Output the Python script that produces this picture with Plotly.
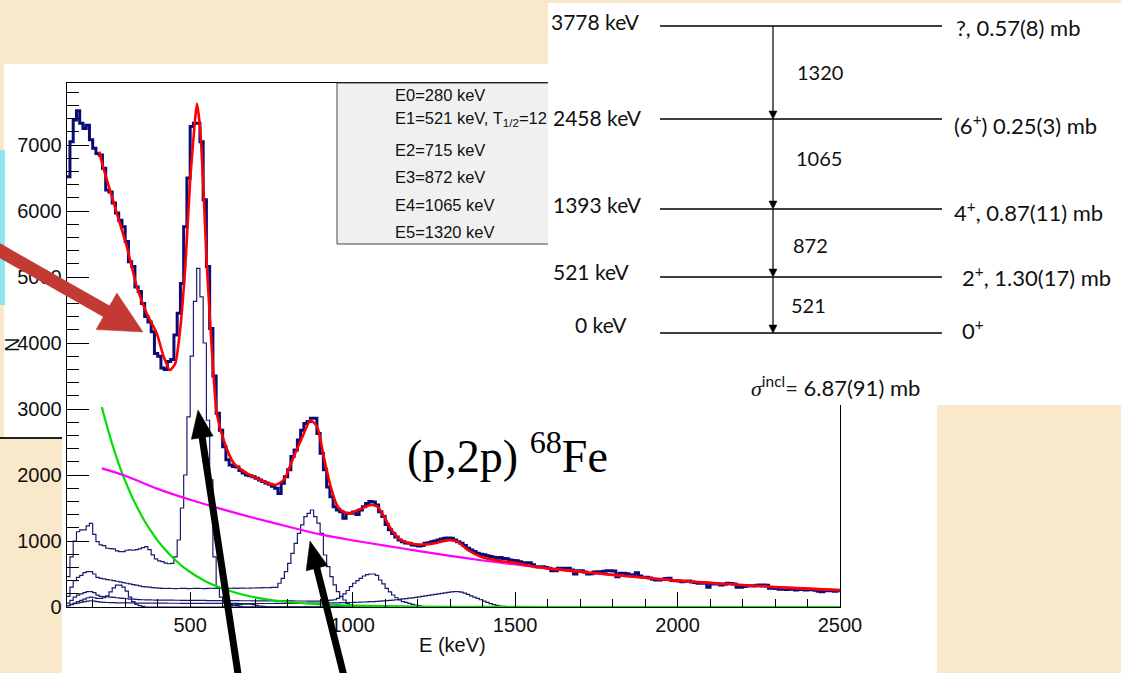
import numpy as np
import plotly.graph_objects as go

# ---------------- data ----------------
BIN_W = 10
hist_start = 120
hist_counts = [
    6520, 7050, 7380, 7520, 7330, 7250, 7300, 7080, 6950, 6870,
    6850, 6650, 6320, 6290, 6120, 5970, 5860, 5760, 5540, 5230,
    5160, 4850, 4780, 4600, 4400, 4320, 4170, 3840, 3800, 3620,
    3600, 3720, 3750, 4120, 4450, 4900, 5760, 6500, 7280, 7330,
    7330, 7050, 6170, 5160, 4220, 3500, 2935, 2680, 2430, 2230,
    2150, 2130, 2120, 2070, 2030, 2000, 1990, 1975, 1950, 1925,
    1900, 1880, 1860, 1830, 1800, 1720, 1875, 1975, 2080, 2280,
    2380, 2530, 2680, 2780, 2810, 2860, 2860, 2630, 2330, 2080,
    1820, 1670, 1520, 1470, 1445, 1345, 1420, 1420, 1440, 1400,
    1470, 1520, 1570, 1600, 1590, 1545, 1445, 1370, 1250, 1170,
    1115, 1060, 1015, 990, 970, 965, 940, 935, 925, 930,
    965, 975, 990, 1000, 1015, 1030, 1040, 1045, 1040, 1015,
    990, 965, 930, 890, 865, 840, 815, 800, 790, 775,
    765, 755, 740, 750, 735, 730, 712, 705, 700, 685,
    672, 670, 672, 640, 611, 605, 611, 600, 586, 550,
    550, 586, 586, 586, 586, 560, 500, 550, 550, 530,
    500, 505, 530, 535, 535, 540, 550, 550, 545, 460,
    510, 510, 505, 490, 480, 520, 470, 450, 450, 440,
    420, 410, 409, 420, 430, 435, 400, 399, 395, 384,
    390, 395, 380, 370, 360, 359, 365, 298, 350, 355,
    350, 333, 345, 359, 355, 350, 298, 300, 310, 318,
    322, 318, 330, 333, 333, 330, 283, 283, 280, 268,
    275, 265, 270, 268, 258, 265, 268, 258, 262, 260,
    255, 240, 232, 245, 250, 247, 240, 247,
]

comp_280_start = 120
comp_280 = [20, 40, 60, 80, 100, 120, 140, 150, 140, 130,
            130, 140, 170, 230, 290, 330, 330, 300, 240, 150,
            80, 40, 20, 10]

comp_521_start = 120
comp_521 = [460, 760, 1000, 1140, 1170, 1170, 1230, 1267, 1100, 990,
            940, 930, 890, 885, 880, 850, 840, 838, 860, 865,
            860, 870, 880, 900, 914, 870, 790, 730, 700, 687,
            665, 655, 660, 760, 1015, 1500, 2000, 2880, 3800, 4630,
            5130, 4700, 4000, 2830, 1925, 760, 300, 150, 80, 50,
            40, 30, 20, 10, 0]

comp_715_start = 600
comp_715 = [10, 15, 20, 28, 35, 40, 45, 45, 42, 35, 25, 15, 8, 3, 0]

comp_872_start = 120
comp_872 = [160, 300, 400, 450, 480, 520, 535, 535, 500, 450,
            434, 425, 415, 409, 400, 390, 380, 370, 360, 350,
            340, 330, 320, 310, 305, 300, 295, 290, 285, 283,
            280, 282, 280, 278, 280, 283, 281, 279, 280, 282,
            283, 280, 279, 282, 284, 281, 280, 283, 285, 282,
            284, 286, 283, 285, 287, 284, 286, 288, 290, 291,
            293, 292, 295, 296, 298, 360, 435, 536, 662, 814,
            965, 1116, 1243, 1369, 1420, 1470, 1370, 1270, 1116, 788,
            612, 460, 334, 233, 157, 106, 55, 30, 10, 0]

comp_1065_start = 120
comp_1065 = [60, 100, 150, 180, 200, 217, 232, 232, 217, 180,
             160, 157, 155, 150, 145, 140, 135, 130, 125, 120,
             118, 115, 112, 110, 108, 107, 106, 105, 105, 104,
             104, 103, 103, 102, 102, 101, 101, 100, 100, 100,
             99, 99, 99, 98, 98, 98, 97, 97, 97, 96,
             96, 96, 96, 95, 95, 95, 95, 94, 94, 94,
             94, 93, 93, 93, 93, 92, 92, 92, 92, 92,
             91, 91, 91, 91, 90, 90, 90, 90, 95, 100,
             100, 105, 110, 130, 160, 200, 250, 308, 360, 400,
             434, 470, 490, 500, 500, 480, 409, 350, 283, 230,
             182, 140, 106, 80, 71, 55, 40, 30, 20, 10, 0]

comp_1320_start = 120
comp_1320 = [20, 35, 50, 60, 70, 80, 90, 95, 90, 80,
             75, 70, 68, 66, 65, 64, 63, 62, 62, 61,
             61, 60, 60, 60, 59, 59, 59, 58, 58, 58,
             58, 57, 57, 57, 57, 56, 56, 56, 56, 56,
             55, 55, 55, 55, 55, 55, 54, 54, 54, 54,
             54, 54, 54, 53, 53, 53, 53, 53, 53, 53,
             53, 53, 53, 53, 54, 54, 54, 55, 55, 55,
             56, 56, 57, 57, 58, 58, 59, 59, 60, 60,
             61, 62, 63, 64, 65, 66, 67, 68, 70, 72,
             74, 76, 78, 80, 82, 85, 88, 92, 96, 100,
             105, 110, 116, 122, 128, 133, 138, 145, 152, 160,
             168, 176, 184, 192, 200, 207, 215, 222, 228, 233,
             233, 225, 210, 190, 170, 150, 130, 110, 90, 70,
             50, 35, 25, 15, 8, 3, 0]
COMP_END = 1550

fit_E = [220, 232, 253, 274, 305, 336, 366, 397, 418, 438, 454, 469, 485, 500, 515,
         521, 531, 541, 551, 562, 572, 582, 603, 634, 675, 716, 762, 788, 819, 850,
         870, 891, 911, 932, 953, 973, 994, 1014, 1056, 1076, 1097, 1117, 1148, 1189,
         1241, 1292, 1323, 1354, 1395, 1447, 1498, 1549, 1600, 1700, 1800, 1900, 2000,
         2100, 2200, 2300, 2400, 2500]
fit_N = [6900, 6670, 6320, 5970, 5460, 4850, 4450, 4150, 3800, 3590, 3690, 4200, 5160, 6470, 7380,
         7630, 7230, 6320, 5210, 4270, 3500, 2930, 2530, 2180, 2025, 1925, 1850, 1925, 2280, 2630,
         2830, 2730, 2280, 1830, 1530, 1440, 1420, 1465, 1545, 1520, 1370, 1190, 1015, 955,
         955, 1010, 990, 865, 762, 702, 671, 621, 585, 535, 487, 443, 400,
         365, 333, 302, 278, 255]

green_E = [228, 240, 260, 280, 300, 320, 340, 360, 380, 400, 420, 440, 460, 480, 500,
           520, 540, 560, 580, 600, 620, 640, 660, 680, 700, 740, 780, 820, 860, 900,
           950, 1000, 1100, 1200, 1400, 1600, 2000, 2500]
green_N = [3030, 2810, 2470, 2170, 1910, 1680, 1480, 1300, 1145, 1005, 885, 780, 685, 600, 530,
           465, 410, 360, 318, 280, 246, 216, 190, 167, 147, 114, 88, 68, 53, 41,
           30, 22, 12, 6, 2, 0, 0, 0]

bkg_E = [228, 300, 400, 500, 600, 700, 800, 900, 1000, 1100, 1200, 1300, 1400, 1500,
         1600, 1700, 1800, 1900, 2000, 2100, 2200, 2300, 2400, 2500]
bkg_N = [2100, 1990, 1790, 1625, 1480, 1345, 1220, 1100, 1010, 930, 850, 775, 705, 645,
         585, 535, 487, 443, 400, 365, 333, 302, 278, 255]

x_ticks = [500, 1000, 1500, 2000, 2500]
y_ticks = [0, 1000, 2000, 3000, 4000, 5000, 6000, 7000]

legend_lines = ["E0=280 keV", "E1=521 keV, T<sub>1/2</sub>=12", "E2=715 keV",
                "E3=872 keV", "E4=1065 keV", "E5=1320 keV"]

level_E = [3778, 2458, 1393, 521, 0]
level_spin = ["?, 0.57(8) mb", "(6<sup>+</sup>) 0.25(3) mb", "4<sup>+</sup>, 0.87(11) mb",
              "2<sup>+</sup>, 1.30(17) mb", "0<sup>+</sup>"]
gamma_E = [1320, 1065, 872, 521]
sigma_text = "= 6.87(91) mb"
reaction_text = "(p,2p) <sup>68</sup>Fe"

# ---------------- layout helpers (pixel placement) ----------------
W, H = 1121, 673
def px(x):
    return x / W
def py(y):
    return 1 - y / H

PARCH = "#f9e8c9"
NAVY = "#0b0b78"
THIN = "#1b1b6e"
SANS = "Liberation Sans"
CAL = "Lato"

def step(start, vals, end=None):
    v = list(vals)
    if end is not None:
        nb = int(round((end - start) / BIN_W))
        v = v + [0] * max(0, nb - len(v))
    edges = start + BIN_W * np.arange(len(v) + 1)
    return edges, v + [v[-1]]

def arrow_shapes(tail, tip, width, head_len, head_half, color):
    t = np.array(tail, float)
    h = np.array(tip, float)
    d = (h - t) / np.linalg.norm(h - t)
    n = np.array([-d[1], d[0]])
    base = h - head_len * d
    shaft_end = h - 0.6 * head_len * d
    p1 = base + head_half * n
    p2 = base - head_half * n
    path = "M {:.5f},{:.5f} L {:.5f},{:.5f} L {:.5f},{:.5f} Z".format(
        px(h[0]), py(h[1]), px(p1[0]), py(p1[1]), px(p2[0]), py(p2[1]))
    return [
        dict(type="line", xref="paper", yref="paper", x0=px(t[0]), y0=py(t[1]),
             x1=px(shaft_end[0]), y1=py(shaft_end[1]), line=dict(color=color, width=width), layer="above"),
        dict(type="path", xref="paper", yref="paper", path=path, fillcolor=color,
             line=dict(color=color, width=0.5), layer="above"),
    ]

fig = go.Figure()

for st, vals in [(comp_280_start, comp_280), (comp_715_start, comp_715),
                 (comp_1320_start, comp_1320), (comp_1065_start, comp_1065),
                 (comp_872_start, comp_872), (comp_521_start, comp_521)]:
    ex, ey = step(st, vals, COMP_END)
    fig.add_trace(go.Scatter(x=ex, y=ey, mode="lines", line=dict(color=THIN, width=1.2, shape="hv"),
                             hoverinfo="skip"))

ex, ey = step(hist_start, hist_counts)
fig.add_trace(go.Scatter(x=ex, y=ey, mode="lines", line=dict(color=NAVY, width=3, shape="hv"),
                         hoverinfo="skip"))

fig.add_trace(go.Scatter(x=green_E, y=green_N, mode="lines",
                         line=dict(color="#00dd00", width=2.2, shape="spline", smoothing=0.8)))
fig.add_trace(go.Scatter(x=bkg_E, y=bkg_N, mode="lines",
                         line=dict(color="#ff00ff", width=2.2, shape="spline", smoothing=0.8)))
fig.add_trace(go.Scatter(x=fit_E, y=fit_N, mode="lines",
                         line=dict(color="#ff0000", width=2.6, shape="spline", smoothing=0.6)))

axis_common = dict(showline=True, linecolor="black", linewidth=1, mirror=True, showgrid=False,
                   zeroline=False, ticks="inside", tickcolor="black", tickwidth=1, automargin=False,
                   tickfont=dict(family=SANS, size=20, color="#111"))
fig.update_layout(
    width=W, height=H, autosize=False,
    margin=dict(l=0, r=0, t=0, b=0, pad=0, autoexpand=False),
    paper_bgcolor=PARCH, plot_bgcolor="rgba(0,0,0,0)", showlegend=False,
    xaxis=dict(domain=[px(66.7), px(840)], range=[120, 2500], tickvals=x_ticks, ticklen=15,
               minor=dict(ticks="inside", ticklen=8, dtick=100, tick0=0, tickcolor="black"),
               **axis_common),
    yaxis=dict(domain=[py(607), py(83)], range=[0, 7940], tickvals=y_ticks, ticklen=22,
               minor=dict(ticks="inside", ticklen=12, dtick=200, tick0=0, tickcolor="black"),
               **axis_common),
)

shapes = [
    dict(type="rect", xref="paper", yref="paper", x0=px(4), x1=px(937), y0=py(673), y1=py(64),
         fillcolor="white", line=dict(width=0), layer="below"),
    dict(type="rect", xref="paper", yref="paper", x0=0, x1=px(62), y0=py(673), y1=py(438),
         fillcolor=PARCH, line=dict(width=0), layer="below"),
    dict(type="line", xref="paper", yref="paper", x0=0, x1=px(62), y0=py(438), y1=py(438),
         line=dict(color="#222", width=2), layer="below"),
    dict(type="rect", xref="paper", yref="paper", x0=0, x1=px(5), y0=py(305), y1=py(150),
         fillcolor="#8fe6ee", line=dict(width=0), layer="below"),
    dict(type="rect", xref="paper", yref="paper", x0=px(337), x1=px(560), y0=py(244), y1=py(83),
         fillcolor="#f0f0f0", line=dict(color="#444", width=1), layer="above"),
    dict(type="rect", xref="paper", yref="paper", x0=px(548), x1=1, y0=py(405), y1=py(3),
         fillcolor="white", line=dict(width=0), layer="above"),
]
level_y = [26, 119, 209, 277, 333]
for yy in level_y:
    shapes.append(dict(type="line", xref="paper", yref="paper", x0=px(660), x1=px(942),
                       y0=py(yy), y1=py(yy), line=dict(color="black", width=1.6), layer="above"))
for i in range(len(level_y) - 1):
    shapes += arrow_shapes((773, level_y[i]), (773, level_y[i + 1]), 1.2, 8, 4, "black")

# pointer arrows (slide overlay)
shapes += arrow_shapes((-12, 244), (143, 332), 13, 42, 21, "#c23a33")
shapes += arrow_shapes((242, 700), (198, 410), 7, 28, 11, "black")
shapes += arrow_shapes((350, 700), (310, 541), 7, 28, 11, "black")
fig.update_layout(shapes=shapes)

ann = []
legend_y = [95, 119, 150, 177, 205, 232]
for t, yy in zip(legend_lines, legend_y):
    ann.append(dict(x=px(393), y=py(yy), xref="paper", yref="paper", text=t, showarrow=False,
                    xanchor="left", yanchor="middle", font=dict(family=SANS, size=16.5, color="#111")))

left_x = [549, 551, 551, 551, 573]
left_y = [22, 117, 204, 271, 324]
for e, xx, yy in zip(level_E, left_x, left_y):
    ann.append(dict(x=px(xx), y=py(yy), xref="paper", yref="paper", text=f"{e} keV", showarrow=False,
                    xanchor="left", yanchor="middle", font=dict(family=CAL, size=21, color="#111")))
right_x = [954, 952, 952, 960, 960]
right_y = [28, 124, 211, 276, 329]
for t, xx, yy in zip(level_spin, right_x, right_y):
    ann.append(dict(x=px(xx), y=py(yy), xref="paper", yref="paper", text=t, showarrow=False,
                    xanchor="left", yanchor="middle", font=dict(family=CAL, size=22, color="#111")))
g_x = [795, 794, 791, 789]
g_y = [72, 158, 245, 305]
for g, xx, yy in zip(gamma_E, g_x, g_y):
    ann.append(dict(x=px(xx), y=py(yy), xref="paper", yref="paper", text=str(g), showarrow=False,
                    xanchor="left", yanchor="middle", font=dict(family=CAL, size=20, color="#111")))
ann.append(dict(x=px(835), y=py(387), xref="paper", yref="paper",
                text="<span style='font-family:Liberation Serif;font-style:italic'>σ</span><sup>incl</sup>" + sigma_text,
                showarrow=False, xanchor="center", yanchor="middle",
                font=dict(family=CAL, size=22, color="#111")))

ann.append(dict(x=px(507), y=py(453), xref="paper", yref="paper", text=reaction_text, showarrow=False,
                xanchor="center", yanchor="middle", font=dict(family="Liberation Serif", size=46, color="black")))
ann.append(dict(x=px(452), y=py(645), xref="paper", yref="paper", text="E (keV)", showarrow=False,
                xanchor="center", yanchor="middle", font=dict(family=SANS, size=20, color="#111")))
ann.append(dict(x=px(12), y=py(345), xref="paper", yref="paper", text="N", showarrow=False, textangle=-90,
                xanchor="center", yanchor="middle", font=dict(family=SANS, size=20, color="#111")))
fig.update_layout(annotations=ann)

fig.write_html("out.html", config={"displayModeBar": False},
               post_script="document.body.style.margin='0';document.body.style.overflow='hidden';")
